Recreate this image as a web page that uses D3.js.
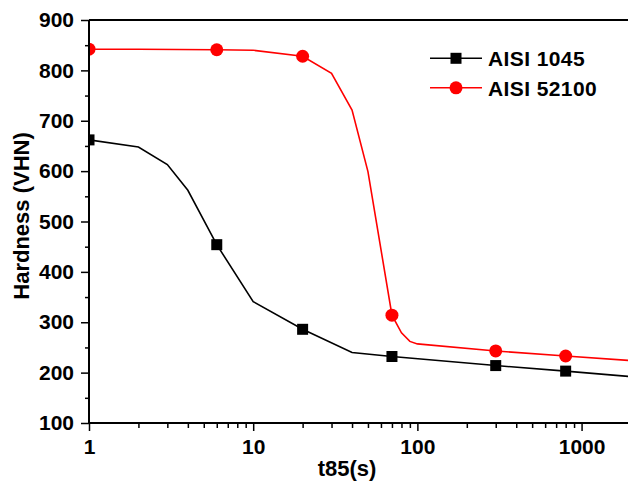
<!DOCTYPE html>
<html>
<head>
<meta charset="utf-8">
<script src="https://cdn.jsdelivr.net/npm/d3@7"></script>
<style>
  html, body { margin: 0; padding: 0; background: #fff; }
  svg text { font-family: Arial, "Liberation Sans", sans-serif; font-weight: bold; fill: #000; }
</style>
</head>
<body>
<svg id="chart" width="628" height="482"></svg>
<script>
// Hardness vs. t85 cooling time for two steels
const seriesNames = ["AISI 1045", "AISI 52100"];
const seriesColors = ["#000000", "#ff0000"];

// Line vertices (time in s, hardness in VHN)
const line1045T = [1, 2, 3, 4, 6, 10, 20, 40, 70, 300, 800, 2000];
const line1045H = [662, 648, 613, 562, 454, 341, 286, 240, 232, 214, 203, 192];
const line52100T = [1, 2, 6, 10, 20, 30, 40, 50, 70, 80, 90, 100, 300, 800, 2000];
const line52100H = [842, 842, 841, 840, 828, 794, 721, 599, 314, 279, 262, 257, 243, 233, 224];

// Measured points shown with markers
const pts1045T = [1, 6, 20, 70, 300, 800];
const pts1045H = [662, 454, 286, 232, 214, 203];
const pts52100T = [1, 6, 20, 70, 300, 800];
const pts52100H = [842, 841, 828, 314, 243, 233];

const xMajorTicks = [1, 10, 100, 1000];
const yMajorTicks = [100, 200, 300, 400, 500, 600, 700, 800, 900];
const xTitle = "t85(s)";
const yTitle = "Hardness (VHN)";

const svg = d3.select("#chart");
const mLeft = 89, mTop = 20, mBottom = 423, mRight = 631;

const x = d3.scaleLog().domain([1, 2000]).range([mLeft, mRight]);
const y = d3.scaleLinear().domain([100, 900]).range([mBottom, mTop]);

// Minor ticks: 2..9 in every decade, 50s on the hardness axis
const xMinor = [];
for (let d = 1; d <= 1000; d *= 10) for (let k = 2; k <= 9; k++) if (d * k <= 2000) xMinor.push(d * k);
const yMinor = d3.range(150, 900, 100);

svg.append("clipPath").attr("id", "plotClip")
  .append("rect").attr("x", mLeft).attr("y", mTop).attr("width", mRight - mLeft).attr("height", mBottom - mTop);

const plot = svg.append("g").attr("clip-path", "url(#plotClip)");

const lineGen = d3.line().x(d => x(d[0])).y(d => y(d[1]));
const lines = [
  d3.zip(line1045T, line1045H),
  d3.zip(line52100T, line52100H)
];
const points = [
  d3.zip(pts1045T, pts1045H),
  d3.zip(pts52100T, pts52100H)
];

lines.forEach((ln, i) => {
  plot.append("path").datum(ln)
    .attr("d", lineGen)
    .attr("fill", "none")
    .attr("stroke", seriesColors[i])
    .attr("stroke-width", 1.6);
});

// Squares for AISI 1045
plot.selectAll(".sq").data(points[0]).enter().append("rect")
  .attr("x", d => x(d[0]) - 5.5).attr("y", d => y(d[1]) - 5.5)
  .attr("width", 11).attr("height", 11)
  .attr("fill", seriesColors[0]);

// Circles for AISI 52100
plot.selectAll(".ci").data(points[1]).enter().append("circle")
  .attr("cx", d => x(d[0])).attr("cy", d => y(d[1])).attr("r", 6.5)
  .attr("fill", seriesColors[1]);

// Axes
const xAxis = svg.append("g").attr("transform", `translate(0,${mBottom})`)
  .call(d3.axisBottom(x).tickValues(xMajorTicks).tickFormat(d3.format("d")).tickSize(8).tickPadding(8));
svg.append("g").attr("transform", `translate(0,${mBottom})`)
  .call(d3.axisBottom(x).tickValues(xMinor).tickFormat("").tickSize(5))
  .call(g => g.select(".domain").remove());

const yAxis = svg.append("g").attr("transform", `translate(${mLeft},0)`)
  .call(d3.axisLeft(y).tickValues(yMajorTicks).tickSize(8).tickPadding(7));
svg.append("g").attr("transform", `translate(${mLeft},0)`)
  .call(d3.axisLeft(y).tickValues(yMinor).tickFormat("").tickSize(4))
  .call(g => g.select(".domain").remove());

svg.selectAll(".domain").attr("stroke", "#000").attr("stroke-width", 2);
svg.selectAll(".tick line").attr("stroke", "#000").attr("stroke-width", 1.5);
svg.selectAll(".tick text").attr("font-size", 21)
  .style("font-family", "Arial, 'Liberation Sans', sans-serif").style("font-weight", "bold");
xAxis.selectAll(".domain").attr("d", `M${mLeft},0H${mRight}`);
yAxis.selectAll(".domain").attr("d", `M0,${mBottom}V${mTop}`);

// Top frame line
svg.append("line").attr("x1", mLeft).attr("x2", mRight).attr("y1", mTop).attr("y2", mTop)
  .attr("stroke", "#000").attr("stroke-width", 2);

// Axis titles
svg.append("text").attr("x", 347).attr("y", 476).attr("text-anchor", "middle")
  .attr("font-size", 22).text(xTitle);
svg.append("text").attr("transform", `translate(28.5,216) rotate(-90)`)
  .attr("text-anchor", "middle").attr("font-size", 22).text(yTitle);

// Legend
const legend = svg.append("g");
seriesNames.forEach((name, i) => {
  const ly = 58.3 + i * 29.5;
  legend.append("line").attr("x1", 430).attr("x2", 482).attr("y1", ly).attr("y2", ly)
    .attr("stroke", seriesColors[i]).attr("stroke-width", 1.6);
  if (i === 0) {
    legend.append("rect").attr("x", 456 - 5.5).attr("y", ly - 5.5).attr("width", 11).attr("height", 11)
      .attr("fill", seriesColors[i]);
  } else {
    legend.append("circle").attr("cx", 456).attr("cy", ly).attr("r", 6.5).attr("fill", seriesColors[i]);
  }
  legend.append("text").attr("x", 488).attr("y", ly + 8).attr("font-size", 21)
    .attr("letter-spacing", 0.4).text(name);
});
</script>
</body>
</html>
